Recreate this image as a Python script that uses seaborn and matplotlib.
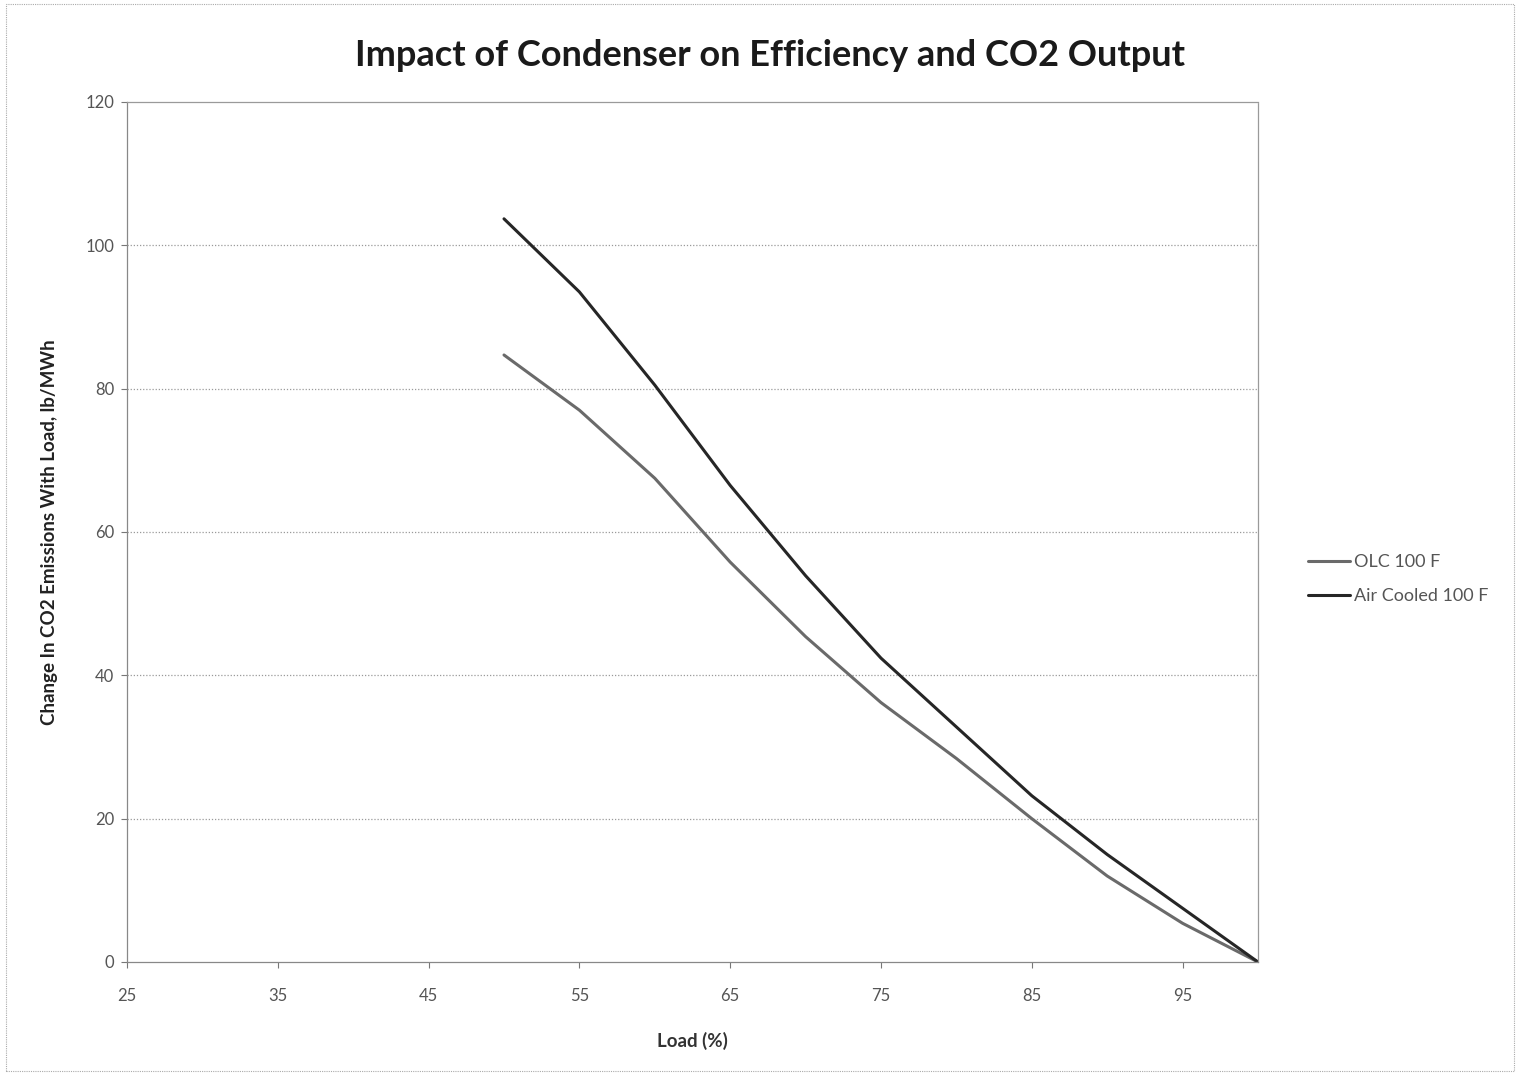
import matplotlib
matplotlib.use("Agg")
import matplotlib.pyplot as plt
from matplotlib.lines import Line2D
import seaborn as sns
import pandas as pd

load_pct = [50, 55, 60, 65, 70, 75, 80, 85, 90, 95, 100]
olc_100f = [84.7, 77.0, 67.5, 55.8, 45.4, 36.2, 28.4, 20.0, 12.0, 5.4, 0.0]
air_cooled_100f = [103.7, 93.5, 80.5, 66.5, 53.9, 42.4, 32.8, 23.2, 15.0, 7.5, 0.0]
series_names = ["OLC 100 F", "Air Cooled 100 F"]
x_ticks = [25, 35, 45, 55, 65, 75, 85, 95]
y_ticks = [0, 20, 40, 60, 80, 100, 120]

df = pd.DataFrame({
    "Load": load_pct * 2,
    "Value": olc_100f + air_cooled_100f,
    "Series": [series_names[0]] * len(load_pct) + [series_names[1]] * len(load_pct),
})

sns.set_theme(style="white")
plt.rcParams["font.family"] = ["Lato", "DejaVu Sans"]

fig = plt.figure(figsize=(15.2, 10.77), dpi=100)
ax = fig.add_axes([127 / 1520, 1 - 962 / 1077, (1258 - 127) / 1520, (962 - 102) / 1077])

palette = {series_names[0]: "#6a6a6a", series_names[1]: "#262626"}
sns.lineplot(data=df, x="Load", y="Value", hue="Series", palette=palette,
             linewidth=2.2, ax=ax, legend=False)

ax.set_xlim(25, 100)
ax.set_ylim(0, 120)
ax.set_xticks(x_ticks)
ax.set_yticks(y_ticks)
ax.tick_params(axis="both", labelsize=12, colors="#777777", labelcolor="#555555",
               direction="out", length=4, width=0.8, bottom=True, left=True)
ax.tick_params(axis="x", pad=15)
ax.tick_params(axis="y", pad=5)
for yv in y_ticks[1:-1]:
    ax.axhline(yv, color="#9a9a9a", linestyle=(0, (1, 1.5)), linewidth=0.9, zorder=0)
for sp in ax.spines.values():
    sp.set_color("#9a9a9a")
    sp.set_linewidth(0.9)
    sp.set_linestyle((0, (1, 1)))
ax.spines["left"].set_linestyle("-")
ax.spines["bottom"].set_linestyle("-")
ax.spines["left"].set_color("#888888")
ax.spines["bottom"].set_color("#888888")

ax.set_xlabel("Load (%)", fontsize=13.5, fontweight="bold", color="#333333", labelpad=20)
ax.set_ylabel("Change In CO2 Emissions With Load, lb/MWh", fontsize=13.5,
              fontweight="bold", color="#222222", labelpad=20)

fig.text(0.5 * (350 + 1190) / 1520, 1 - 55 / 1077,
         "Impact of Condenser on Efficiency and CO2 Output",
         ha="center", va="center", fontsize=26, fontweight="bold", color="#1a1a1a")

handles = [Line2D([0], [0], color=palette[n], linewidth=2.2) for n in series_names]
leg = fig.legend(handles, series_names, loc="center left",
                 bbox_to_anchor=(1308 / 1520, 1 - 579 / 1077), frameon=False,
                 fontsize=13, handlelength=2.3, handletextpad=0.25, labelspacing=1.0,
                 borderpad=0, borderaxespad=0)
for t in leg.get_texts():
    t.set_color("#555555")

border = plt.Rectangle((0.004, 0.006), 0.992, 0.99, transform=fig.transFigure,
                       fill=False, edgecolor="#aaaaaa", linewidth=0.8,
                       linestyle=(0, (1, 1)))
fig.patches.append(border)

fig.savefig("out.png", dpi=100)
